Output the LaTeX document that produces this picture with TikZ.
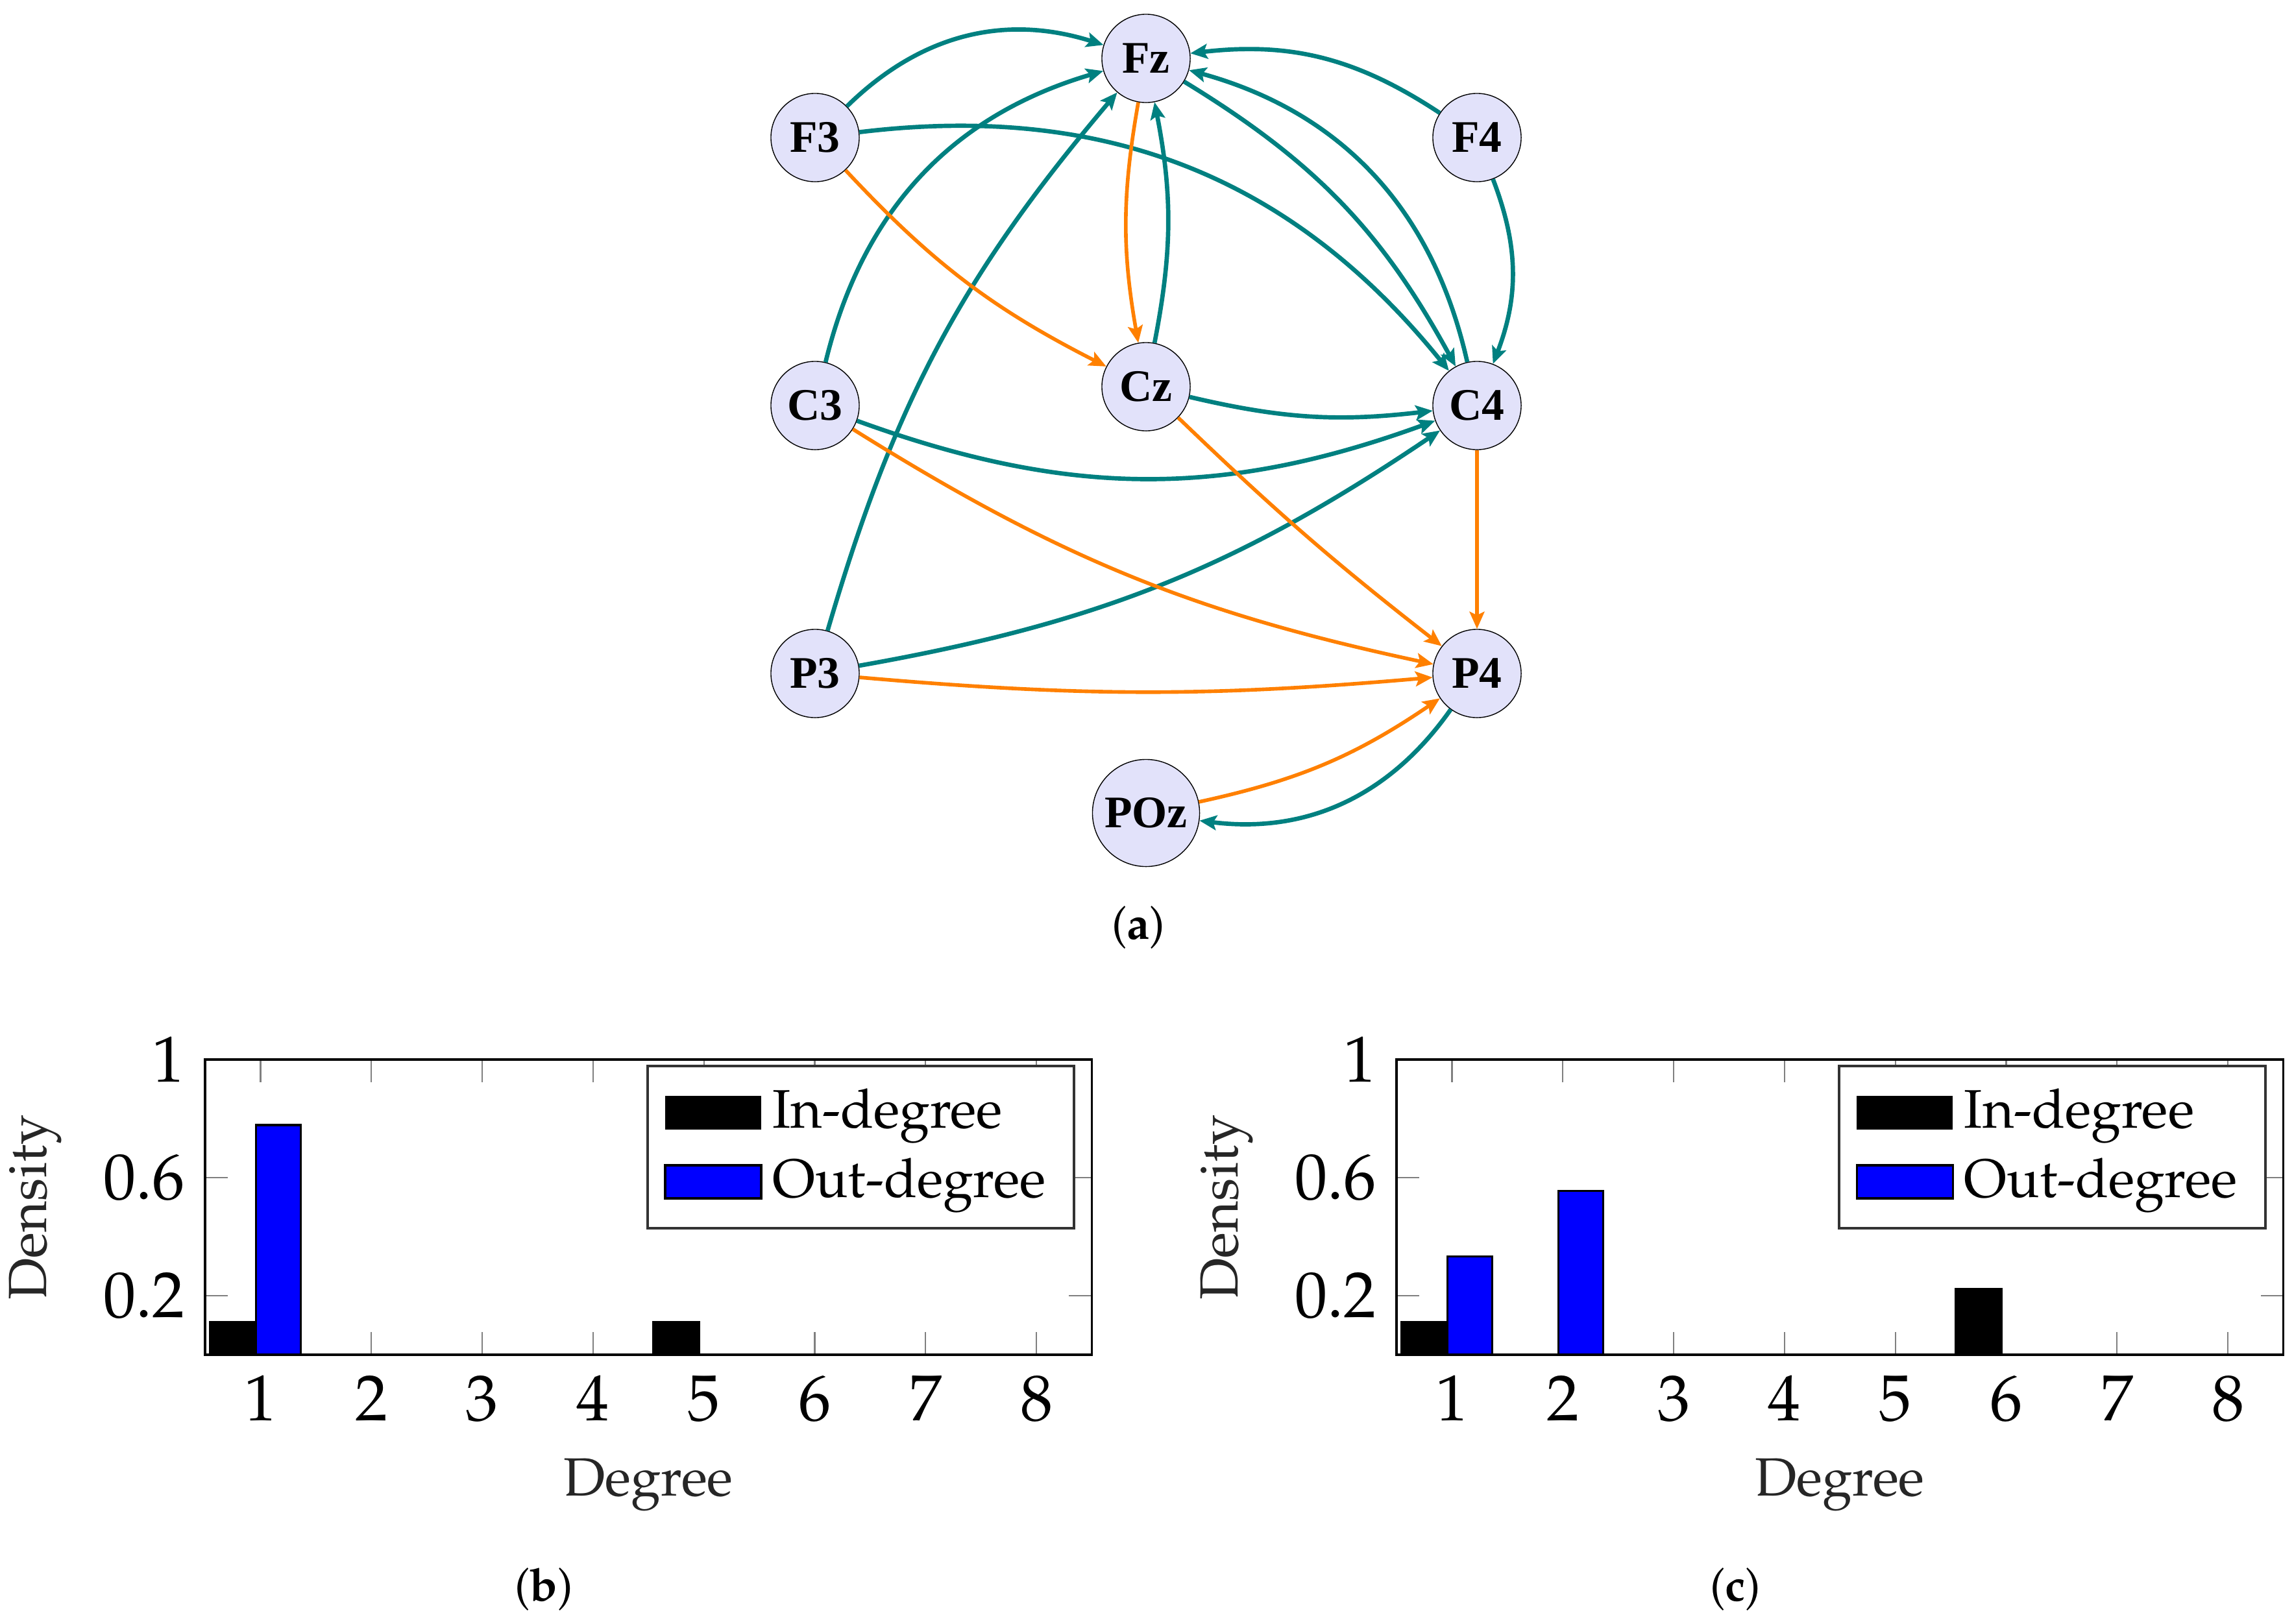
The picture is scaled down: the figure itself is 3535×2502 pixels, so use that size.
\documentclass[tikz,border=0pt]{standalone}
\usepackage[T1]{fontenc}
\usepackage{fontspec}
\usetikzlibrary{arrows.meta}
\newfontfamily\nodefont{Liberation Serif}
\newcommand\pal{\fontencoding{T1}\fontfamily{ppl}\selectfont}
\definecolor{nodefill}{RGB}{226,226,250}
\definecolor{tl}{RGB}{0,128,128}
\definecolor{og}{RGB}{255,128,0}
\definecolor{lblgray}{RGB}{38,38,38}
\tikzset{
  eeg/.style={circle, draw=black, line width=0.4pt, fill=nodefill, minimum size=1.36cm, inner sep=0pt,
    font=\nodefont\bfseries\fontsize{19.8}{22}\selectfont},
  tedge/.style={draw=tl, line width=1.9pt, -{Stealth[length=7.5pt,width=6.5pt,inset=1.5pt]}},
  oedge/.style={draw=og, line width=1.6pt, -{Stealth[length=7.5pt,width=6.5pt,inset=1.5pt]}},
  tickmk/.style={draw=black!50, line width=0.6pt},
  barbox/.style={draw=black, line width=0.9pt},
  ticklab/.style={inner sep=0pt, font=\pal\fontsize{28.5}{34}\selectfont},
  axlab/.style={inner sep=0pt, text=lblgray, font=\pal\fontsize{23.6}{28}\selectfont},
  leglab/.style={inner sep=0pt, anchor=base west, font=\pal\fontsize{23.8}{28}\selectfont},
  sublab/.style={inner sep=0pt, anchor=base, font=\pal\fontsize{20}{24}\selectfont}
}
% #1 prefix, #2 xshift, #3 bars, #4 bottom ticks, #5 letter
\newcommand\degchart[5]{%
\begin{scope}[xshift=#2]
  \begin{scope}[shift={(230.65,2088)}, x=1.707cm, y=4.55cm]
    \foreach \k in {1,...,8} \draw[tickmk] (\k,1) -- ++(0,-0.35cm);
    \foreach \k in {#4} \draw[tickmk] (\k,0) -- ++(0,0.35cm);
    \foreach \v in {0.2,0.6} {
      \draw[tickmk] (0.5,\v) -- ++(0.35cm,0);
      \draw[tickmk] (8.5,\v) -- ++(-0.35cm,0);
    }
    #3
    \draw[line width=1pt] (0.5,0) rectangle (8.5,1);
    \foreach \k in {1,...,8}
      \node[ticklab, anchor=base, yshift=-1.01cm] (#1x\k) at (\k,0) {\k};
    \node[ticklab, anchor=east, xshift=-0.31cm] (#1y1) at (0.5,1) {1};
    \node[ticklab, anchor=east, xshift=-0.31cm] (#1y6) at (0.5,0.6) {0.6};
    \node[ticklab, anchor=east, xshift=-0.31cm] (#1y2) at (0.5,0.2) {0.2};
  \end{scope}
  \draw[draw=black!80, fill=white, line width=1pt] (998,1643) rectangle (1655,1893);
  \fill[black] (1025,1689) rectangle (1173,1741);
  \draw[barbox, fill=blue] (1025,1796) rectangle (1173,1847);
  \node[leglab] (#1lin) at (1190,1738) {In-degree};
  \node[leglab] (#1lout) at (1190,1845) {Out-degree};
  \node[axlab, rotate=90] (#1dens) at (54,1861) {Density};
  \node[axlab, anchor=base] (#1deg) at (999,2305) {Degree};
  \node[sublab] (#1sub) at (838,2467) {(\textbf{#5})};
\end{scope}}
\newcommand\inbar[2]{\draw[barbox, fill=black] (#1-0.455,0) rectangle (#1-0.04,#2);}
\newcommand\outbar[2]{\draw[barbox, fill=blue] (#1-0.04,0) rectangle (#1+0.365,#2);}
\begin{document}
\begin{tikzpicture}[x=0.01cm, y=-0.01cm]
\useasboundingbox (0,0) rectangle (3535,2502);
% nodes
\node[eeg] (Fz) at (1766,90) {Fz};
\node[eeg] (F3) at (1256,212) {F3};
\node[eeg] (F4) at (2276,212) {F4};
\node[eeg] (C3) at (1256,625) {C3};
\node[eeg] (Cz) at (1766,596) {Cz};
\node[eeg] (C4) at (2276,625) {C4};
\node[eeg] (P3) at (1256,1038) {P3};
\node[eeg] (P4) at (2276,1038) {P4};
\node[eeg, minimum size=1.65cm] (POz) at (1766,1253) {POz};
% teal edges
\draw[tedge] (F3) to[bend left=31] (Fz);
\draw[tedge] (C3) to[bend left=30] (Fz);
\draw[tedge] (P3) to[bend left=12] (Fz);
\draw[tedge] (F3) to[bend left=29] (C4);
\draw[tedge] (Fz) to[bend left=15] (C4);
\draw[tedge] (C4) to[bend right=31] (Fz);
\draw[tedge] (F4) to[bend right=20] (Fz);
\draw[tedge] (F4) to[bend left=21] (C4);
\draw[tedge] (Cz) to[bend right=11] (Fz);
\draw[tedge] (Cz) to[bend right=10] (C4);
\draw[tedge] (C3) to[bend right=20] (C4);
\draw[tedge] (P3) to[bend right=12] (C4);
\draw[tedge] (P4) to[bend left=31] (POz);
% orange edges
\draw[oedge] (Fz) to[bend right=10] (Cz);
\draw[oedge] (F3) to[bend right=10] (Cz);
\draw[oedge] (C3) to[bend right=10] (P4);
\draw[oedge] (Cz) to[bend right=3] (P4);
\draw[oedge] (C4) -- (P4);
\draw[oedge] (P3) to[bend right=5] (P4);
\draw[oedge] (POz) to[bend right=11] (P4);
\node[sublab] (suba) at (1754,1447) {(\textbf{a})};
% charts
\degchart{b}{0cm}{\inbar{1}{1/9}\outbar{1}{7/9}\inbar{5}{1/9}}{2,3,4,6,7,8}{b}
\degchart{c}{18.35cm}{\inbar{1}{1/9}\outbar{1}{3/9}\outbar{2}{5/9}\inbar{6}{2/9}}{3,4,5,7,8}{c}
\end{tikzpicture}
\end{document}
